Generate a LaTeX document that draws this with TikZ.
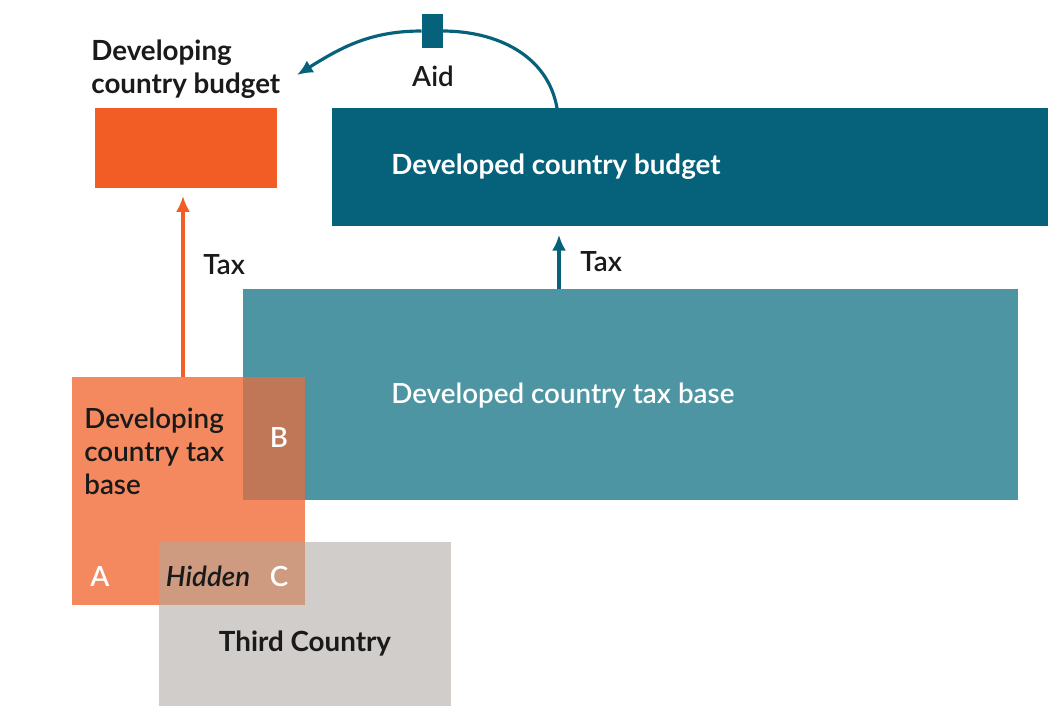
\documentclass[tikz,border=0pt]{standalone}
\usepackage{fontspec}
\setmainfont{Lato}
\newfontfamily\latosemi{Lato Semibold}
\usepackage{xcolor}
\usetikzlibrary{positioning,arrows.meta,calc}

\definecolor{devorange}{HTML}{F15D24}
\definecolor{devsalmon}{HTML}{F4895F}
\definecolor{rich}{HTML}{06627A}
\definecolor{richbase}{HTML}{4E95A3}
\definecolor{thirdgrey}{HTML}{D1CDCB}
\definecolor{overB}{HTML}{C07757}
\definecolor{overC}{HTML}{CE9A80}
\definecolor{ink}{HTML}{1A1A1A}

\tikzset{
  block/.style={inner sep=0pt,outer sep=0pt,draw=none},
  lbl/.style={inner sep=0pt,font=\fontsize{15.8}{18.8}\selectfont\latosemi,text=ink},
  tag/.style={inner sep=0pt,font=\fontsize{15.8}{18.8}\selectfont\latosemi,text=white},
}

\begin{document}
\begin{tikzpicture}[x=0.02cm,y=-0.02cm,>={Latex[length=9pt,width=8pt]}]
  \useasboundingbox (0,0) rectangle (1048,718);
  % boxes
  \node[block,fill=devorange,minimum width=182*0.02cm,minimum height=80*0.02cm] (devbudget) at (186,148) {};
  \node[block,fill=rich,minimum width=716*0.02cm,minimum height=118*0.02cm] (richbudget) at (690,167) {};
  \node[block,fill=richbase,minimum width=775*0.02cm,minimum height=211*0.02cm] (richbase) at (630.5,394.5) {};
  \node[block,fill=devsalmon,minimum width=233*0.02cm,minimum height=228*0.02cm] (devbase) at (188.5,491) {};
  \node[block,fill=thirdgrey,minimum width=292*0.02cm,minimum height=164*0.02cm] (third) at (305,624) {};
  \node[block,fill=overB,minimum width=62*0.02cm,minimum height=123*0.02cm] (ovB) at (274,438.5) {};
  \node[block,fill=overC,minimum width=146*0.02cm,minimum height=63*0.02cm] (ovC) at (232,573.5) {};
  % texts
  \node[lbl,font=\fontsize{15.8}{18.8}\selectfont\bfseries,anchor=west,align=left] (devbudgettxt) at (91,69) {Developing\\country budget};
  \node[tag,font=\fontsize{15.8}{18.8}\selectfont\bfseries,anchor=west] (richbudgettxt) at (391,167) {Developed country budget};
  \node[tag,anchor=west] (richbasetxt) at (391,396) {Developed country tax base};
  \node[lbl,anchor=west,align=left] (devbasetxt) at (84,451) {Developing\\country tax\\base};
  \node[tag] (tagB) at (279,437) {B};
  \node[tag] (tagA) at (100,576) {A};
  \node[tag] (tagC) at (279,576) {C};
  \node[lbl,font=\fontsize{15.8}{18.8}\selectfont\latosemi\itshape] (hidden) at (208,576) {Hidden};
  \node[lbl,font=\fontsize{15.8}{18.8}\selectfont\bfseries] (thirdtxt) at (305,643) {Third Country};
  % flows
  \coordinate (richtax) at (559,289);
  \coordinate (aidfoot) at (557,108);
  \coordinate (aidend) at (297,75);
  \draw[->,devorange,line width=1.8pt] ([xshift=-0.06cm]devbudget.south |- devbase.north) -- ([xshift=-0.06cm,yshift=-0.16cm]devbudget.south);
  \node[lbl,anchor=west] (devtax) at (203,265) {Tax};
  \draw[->,rich,line width=1.8pt] (richtax) -- ([yshift=-5pt]richtax |- richbudget.south);
  \node[lbl,anchor=west] (richtaxtxt) at (580,262) {Tax};
  \node[block,fill=rich,minimum width=21*0.02cm,minimum height=34*0.02cm] (aidbox) at (432,31) {};
  \draw[->,rich,line width=1.8pt] (aidfoot) to[out=100,in=0] (aidbox.east) (aidbox.west) to[out=180,in=32] (aidend);
  \node[lbl] (aid) at (433,76) {Aid};
\end{tikzpicture}
\end{document}
